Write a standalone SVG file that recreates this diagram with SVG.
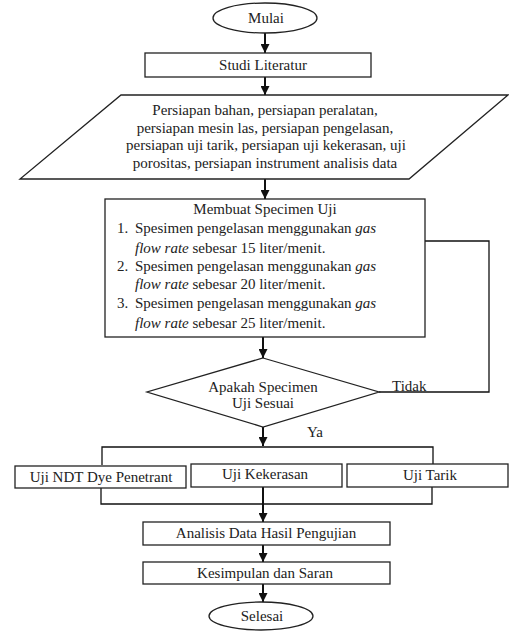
<svg xmlns="http://www.w3.org/2000/svg" width="509" height="631" viewBox="0 0 509 631">
<defs>
<style>
.s{fill:#fff;stroke:#222;stroke-width:1.3}
.t{font-family:"Liberation Serif","Times New Roman",serif;font-size:15px;fill:#222}
.c{fill:none;stroke:#111;stroke-width:1.3}
.a{fill:none;stroke:#111;stroke-width:2}
</style>
<marker id="ah" viewBox="0 0 10 10" refX="10" refY="5" markerWidth="9" markerHeight="9" markerUnits="userSpaceOnUse" orient="auto">
<path d="M0,0 L10,5 L0,10 z" fill="#111"/>
</marker>
</defs>
<rect width="509" height="631" fill="#fff"/>
<g id="connectors">
<line class="a" x1="265" y1="33" x2="265" y2="53" marker-end="url(#ah)"/>
<line class="a" x1="265" y1="77" x2="265" y2="95" marker-end="url(#ah)"/>
<line class="a" x1="265" y1="179" x2="265" y2="199" marker-end="url(#ah)"/>
<line class="a" x1="263" y1="337" x2="263" y2="358" marker-end="url(#ah)"/>
<polyline class="c" points="425,241 489,241 489,392 379,392"/>
<line class="a" x1="263" y1="427" x2="263" y2="446" marker-end="url(#ah)"/>
<polyline class="c" points="102,465 102,447 433,447 433,464"/>
<polyline class="c" points="101,488 101,504 432,504 432,487"/>
<line class="a" x1="263" y1="487" x2="263" y2="522" marker-end="url(#ah)"/>
<line class="a" x1="263" y1="545" x2="263" y2="562" marker-end="url(#ah)"/>
<line class="a" x1="263" y1="584" x2="263" y2="602" marker-end="url(#ah)"/>
<text class="t" x="392" y="391">Tidak</text>
<text class="t" x="307" y="437">Ya</text>
</g>
<g id="mulai">
<ellipse class="s" cx="265" cy="18" rx="52" ry="15"/>
<text class="t" x="266" y="23" text-anchor="middle">Mulai</text>
</g>
<g id="studi">
<rect class="s" x="145" y="53" width="226" height="24"/>
<text class="t" x="263" y="70" text-anchor="middle">Studi Literatur</text>
</g>
<g id="persiapan">
<polygon class="s" points="121,95 508,95 409,179 20,179"/>
<text class="t" text-anchor="middle"><tspan x="265" y="115">Persiapan bahan, persiapan peralatan,</tspan><tspan x="265" y="133">persiapan mesin las, persiapan pengelasan,</tspan><tspan x="266" y="150">persiapan uji tarik, persiapan uji kekerasan, uji</tspan><tspan x="265" y="168">porositas, persiapan instrument analisis data</tspan></text>
</g>
<g id="membuat">
<rect class="s" x="105" y="199" width="320" height="138"/>
<text class="t" x="265" y="214" text-anchor="middle">Membuat Specimen Uji</text>
<text class="t"><tspan x="117" y="233">1.</tspan><tspan x="135" y="233">Spesimen pengelasan menggunakan <tspan font-style="italic">gas</tspan></tspan></text>
<text class="t" x="135" y="253"><tspan font-style="italic">flow rate</tspan> sebesar 15 liter/menit.</text>
<text class="t"><tspan x="117" y="271">2.</tspan><tspan x="135" y="271">Spesimen pengelasan menggunakan <tspan font-style="italic">gas</tspan></tspan></text>
<text class="t" x="135" y="289"><tspan font-style="italic">flow rate</tspan> sebesar 20 liter/menit.</text>
<text class="t"><tspan x="117" y="308">3.</tspan><tspan x="135" y="308">Spesimen pengelasan menggunakan <tspan font-style="italic">gas</tspan></tspan></text>
<text class="t" x="135" y="328"><tspan font-style="italic">flow rate</tspan> sebesar 25 liter/menit.</text>
</g>
<g id="keputusan">
<polygon class="s" points="263,358 379,392 263,427 147,392"/>
<text class="t" text-anchor="middle"><tspan x="263" y="392">Apakah Specimen</tspan><tspan x="263" y="408">Uji Sesuai</tspan></text>
</g>
<g id="ndt">
<rect class="s" x="15" y="466" width="171" height="22"/>
<text class="t" x="101" y="482" text-anchor="middle">Uji NDT Dye Penetrant</text>
</g>
<g id="kekerasan">
<rect class="s" x="191" y="464" width="151" height="23"/>
<text class="t" x="265" y="479" text-anchor="middle">Uji Kekerasan</text>
</g>
<g id="tarik">
<rect class="s" x="347" y="464" width="161" height="23"/>
<text class="t" x="430" y="480" text-anchor="middle">Uji Tarik</text>
</g>
<g id="analisis">
<rect class="s" x="143" y="522" width="247" height="23"/>
<text class="t" x="266" y="538" text-anchor="middle">Analisis Data Hasil Pengujian</text>
</g>
<g id="kesimpulan">
<rect class="s" x="143" y="562" width="247" height="22"/>
<text class="t" x="265" y="578" text-anchor="middle">Kesimpulan dan Saran</text>
</g>
<g id="selesai">
<ellipse class="s" cx="261" cy="616" rx="52" ry="14"/>
<text class="t" x="262" y="621" text-anchor="middle">Selesai</text>
</g>
</svg>
